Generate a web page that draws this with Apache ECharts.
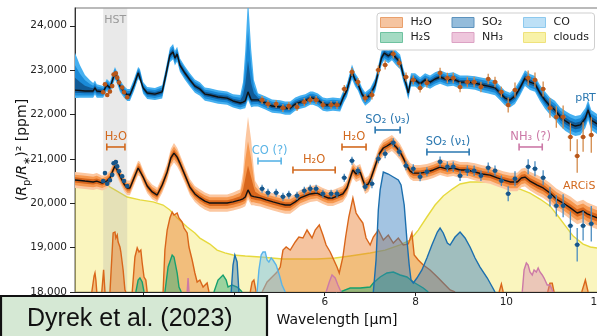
<!DOCTYPE html>
<html>
<head>
<meta charset="utf-8">
<script src="https://cdn.jsdelivr.net/npm/echarts@6/dist/echarts.min.js"></script>
<style>
  html, body { margin: 0; padding: 0; background: #fff; }
  #chart { width: 597px; height: 336px; }
</style>
</head>
<body>
<div id="chart"></div>
<script>
// ---------- axes ----------
const xTicks = [2, 4, 6, 8, 10, 12];
const yTicks = [18000, 19000, 20000, 21000, 22000, 23000, 24000];

// pRT retrieval is drawn shifted up for clarity (model and data alike)
const PRT_OFFSET = 2000;

// retrieved transit spectra: [wavelength µm, median ppm, sigma below, sigma above]
const prtModel = [
  [0.50, 22550, 60, 280], [0.61, 22540, 55, 190], [0.72, 22530, 50, 120], [0.83, 22530, 50, 80],
  [0.90, 22530, 50, 60], [0.94, 22600, 50, 55], [0.98, 22530, 50, 50], [1.12, 22510, 45, 45],
  [1.20, 22665, 45, 45], [1.27, 22600, 45, 45], [1.34, 22820, 45, 45], [1.38, 22935, 45, 45],
  [1.43, 22820, 45, 45], [1.49, 22640, 45, 45], [1.58, 22510, 45, 45], [1.65, 22440, 45, 45],
  [1.71, 22440, 45, 45], [1.80, 22665, 45, 45], [1.89, 22935, 45, 45], [1.93, 22890, 45, 45],
  [2.00, 22600, 45, 45], [2.09, 22485, 45, 45], [2.26, 22460, 45, 45], [2.42, 22510, 50, 50],
  [2.50, 22890, 50, 50], [2.59, 23340, 55, 55], [2.66, 23410, 55, 60], [2.70, 23270, 55, 55],
  [2.75, 23360, 55, 55], [2.81, 23115, 50, 50], [2.92, 22935, 50, 50], [3.03, 22780, 50, 50],
  [3.14, 22640, 50, 50], [3.25, 22575, 50, 50], [3.36, 22460, 50, 50], [3.47, 22440, 50, 50],
  [3.65, 22395, 50, 50], [3.85, 22370, 50, 50], [3.98, 22305, 50, 50], [4.14, 22260, 50, 60],
  [4.20, 22280, 50, 150], [4.25, 22305, 55, 380], [4.31, 22510, 60, 700], [4.38, 22330, 55, 380],
  [4.44, 22330, 50, 150], [4.53, 22330, 50, 50], [4.69, 22260, 50, 50], [4.84, 22190, 50, 50],
  [5.02, 22170, 50, 50], [5.13, 22145, 50, 50], [5.24, 22145, 50, 50], [5.35, 22235, 50, 50],
  [5.46, 22280, 50, 50], [5.57, 22305, 50, 50], [5.68, 22370, 50, 50], [5.74, 22370, 50, 50],
  [5.85, 22325, 50, 50], [5.96, 22235, 50, 50], [6.05, 22215, 50, 50], [6.18, 22235, 50, 50],
  [6.34, 22215, 50, 50], [6.42, 22415, 50, 50], [6.49, 22550, 50, 50], [6.60, 22960, 55, 55],
  [6.67, 22780, 50, 50], [6.73, 22690, 50, 50], [6.82, 22460, 50, 50], [6.89, 22350, 50, 50],
  [7.00, 22440, 50, 50], [7.11, 22665, 50, 50], [7.18, 22960, 50, 50], [7.25, 23275, 55, 55],
  [7.31, 23385, 55, 55], [7.40, 23320, 55, 55], [7.48, 23385, 55, 55], [7.57, 23275, 55, 55],
  [7.66, 23185, 55, 55], [7.73, 22890, 50, 50], [7.79, 22690, 50, 50], [7.84, 22485, 50, 50],
  [7.90, 22780, 50, 50], [7.99, 22780, 50, 50], [8.10, 22690, 50, 50], [8.21, 22780, 50, 50],
  [8.32, 22730, 50, 50], [8.43, 22800, 50, 50], [8.54, 22845, 50, 50], [8.70, 22780, 50, 50],
  [8.83, 22800, 50, 50], [8.98, 22730, 50, 50], [9.14, 22730, 50, 50], [9.31, 22710, 50, 50],
  [9.47, 22665, 55, 55], [9.60, 22640, 55, 55], [9.75, 22600, 55, 55], [9.86, 22485, 55, 55],
  [9.97, 22370, 55, 55], [10.08, 22325, 55, 55], [10.19, 22415, 60, 60], [10.30, 22600, 60, 60],
  [10.41, 22820, 60, 60], [10.52, 22730, 60, 60], [10.63, 22690, 60, 60], [10.74, 22485, 60, 60],
  [10.85, 22325, 65, 65], [10.96, 22190, 65, 65], [11.07, 22100, 70, 70], [11.19, 21945, 70, 70],
  [11.30, 21855, 75, 75], [11.41, 21785, 75, 75], [11.52, 21740, 75, 75], [11.63, 21765, 75, 75],
  [11.74, 21920, 75, 75], [11.80, 22100, 75, 75], [11.87, 21875, 75, 75], [12.00, 21785, 75, 75]
];

const arcisModel = [
  [0.50, 20525, 60, 60], [0.72, 20500, 60, 60], [0.90, 20480, 60, 60], [0.98, 20500, 60, 60],
  [1.10, 20455, 55, 55], [1.20, 20500, 55, 55], [1.27, 20570, 55, 55], [1.34, 20750, 55, 55],
  [1.38, 20840, 55, 55], [1.43, 20750, 55, 55], [1.49, 20615, 55, 55], [1.58, 20435, 55, 55],
  [1.65, 20345, 55, 55], [1.71, 20345, 55, 55], [1.80, 20570, 55, 55], [1.89, 20795, 55, 55],
  [1.93, 20770, 55, 55], [2.00, 20590, 55, 55], [2.09, 20390, 55, 55], [2.20, 20255, 55, 55],
  [2.31, 20185, 55, 55], [2.42, 20410, 60, 60], [2.53, 20705, 65, 65], [2.61, 21020, 70, 70],
  [2.68, 21130, 70, 75], [2.75, 21040, 70, 70], [2.81, 20905, 65, 65], [2.92, 20635, 60, 60],
  [3.03, 20365, 60, 60], [3.14, 20210, 60, 60], [3.25, 20120, 65, 65], [3.36, 20050, 65, 65],
  [3.47, 20005, 65, 65], [3.69, 20005, 65, 65], [3.85, 20005, 65, 65], [3.98, 20030, 65, 70],
  [4.14, 20075, 65, 80], [4.20, 20100, 65, 200], [4.25, 20140, 70, 420], [4.31, 20300, 70, 550],
  [4.38, 20165, 70, 420], [4.44, 20150, 65, 200], [4.47, 20140, 65, 120], [4.58, 20120, 65, 65],
  [4.71, 20075, 65, 65], [4.86, 20030, 65, 65], [5.02, 19985, 65, 65], [5.13, 19960, 65, 65],
  [5.24, 19960, 65, 65], [5.35, 20030, 60, 60], [5.46, 20120, 60, 60], [5.57, 20165, 60, 60],
  [5.68, 20210, 60, 60], [5.83, 20230, 60, 60], [5.96, 20165, 60, 60], [6.07, 20120, 60, 60],
  [6.18, 20120, 60, 60], [6.29, 20165, 60, 60], [6.40, 20210, 60, 60], [6.49, 20345, 60, 60],
  [6.56, 20570, 60, 60], [6.62, 20750, 60, 60], [6.69, 20660, 60, 60], [6.78, 20705, 60, 60],
  [6.84, 20525, 60, 60], [6.89, 20390, 60, 60], [6.96, 20435, 60, 60], [7.02, 20570, 60, 60],
  [7.11, 20840, 60, 60], [7.20, 21110, 60, 60], [7.29, 21245, 60, 60], [7.37, 21290, 60, 60],
  [7.48, 21360, 60, 60], [7.57, 21270, 60, 60], [7.66, 21155, 60, 60], [7.73, 21020, 60, 60],
  [7.81, 20840, 60, 60], [7.88, 20725, 60, 60], [7.95, 20680, 60, 60], [8.10, 20680, 60, 60],
  [8.25, 20705, 60, 60], [8.39, 20750, 60, 60], [8.54, 20815, 60, 60], [8.70, 20770, 60, 60],
  [8.83, 20795, 60, 60], [8.98, 20750, 60, 60], [9.14, 20750, 60, 60], [9.31, 20705, 65, 65],
  [9.47, 20660, 65, 65], [9.64, 20635, 65, 65], [9.80, 20570, 65, 65], [9.93, 20525, 65, 65],
  [10.08, 20480, 70, 70], [10.24, 20480, 70, 70], [10.33, 20570, 70, 70], [10.41, 20590, 70, 70],
  [10.52, 20500, 70, 70], [10.68, 20410, 75, 75], [10.81, 20345, 75, 75], [10.96, 20230, 75, 75],
  [11.10, 20095, 80, 80], [11.25, 20005, 80, 80], [11.41, 19895, 85, 85], [11.56, 19780, 85, 85],
  [11.69, 19825, 85, 85], [11.78, 19760, 85, 85], [11.89, 19715, 85, 85], [12.00, 19670, 85, 85]
];

// contributions of the individual opacity sources: [wavelength µm, ppm], null splits features
const cloudsCurve = [
  [0.50, 20500], [0.83, 20480], [1.12, 20455], [1.38, 20300], [1.65, 20140], [1.93, 20075],
  [2.22, 20030], [2.44, 19960], [2.59, 19850], [2.75, 19670], [2.97, 19465], [3.14, 19330],
  [3.25, 19215], [3.47, 19080], [3.63, 18945], [3.80, 18880], [3.98, 18835], [4.25, 18810],
  [4.58, 18790], [5.08, 18745], [5.46, 18745], [5.83, 18745], [6.23, 18765], [6.56, 18810],
  [7.00, 18880], [7.33, 18945], [7.66, 19060], [7.88, 19170], [8.06, 19395], [8.25, 19690],
  [8.43, 19960], [8.61, 20165], [8.81, 20320], [8.98, 20435], [9.20, 20480], [9.42, 20480],
  [9.64, 20480], [9.86, 20455], [10.08, 20390], [10.30, 20320], [10.52, 20230], [10.74, 20095],
  [10.96, 19940], [11.12, 19735], [11.30, 19490], [11.47, 19260], [11.69, 19080], [11.85, 19015],
  [12.00, 18990]
];

const h2oCurve = [
  [0.87, 18000], [0.92, 18360], [0.94, 18430], [0.96, 18270], [0.98, 18000], null,
  [1.09, 18000], [1.13, 18500], [1.16, 18000], null,
  [1.27, 18000], [1.32, 18946], [1.34, 19330], [1.38, 19352], [1.40, 19217], [1.43, 19284],
  [1.45, 19127], [1.49, 19014], [1.51, 18901], [1.56, 18496], [1.60, 18045], [1.62, 18000], null,
  [1.76, 18000], [1.82, 18789], [1.87, 18992], [1.91, 18901], [1.95, 18946], [1.98, 18654],
  [2.02, 18338], [2.06, 18270], [2.09, 18000], null,
  [2.44, 18000], [2.48, 18946], [2.53, 19397], [2.59, 19668], [2.64, 19803], [2.68, 19735],
  [2.75, 19780], [2.79, 19668], [2.86, 19577], [2.90, 19442], [2.97, 19330], [3.01, 19014],
  [3.08, 18721], [3.14, 18428], [3.19, 18225], [3.25, 18270], [3.32, 18113], [3.41, 18203],
  [3.45, 18000], null,
  [4.36, 18000], [4.40, 18225], [4.44, 18270], [4.49, 18000], null,
  [4.62, 18000], [4.73, 18225], [4.84, 18338], [4.95, 18451], [5.02, 18563], [5.08, 18946],
  [5.15, 19014], [5.24, 18946], [5.35, 19127], [5.43, 19239], [5.52, 19217], [5.61, 19397],
  [5.72, 19217], [5.79, 19397], [5.88, 19510], [5.96, 19284], [6.03, 19059], [6.12, 18901],
  [6.18, 18766], [6.27, 18563], [6.32, 18428], [6.40, 18789], [6.46, 19239], [6.53, 19690],
  [6.62, 20118], [6.69, 19780], [6.76, 19668], [6.84, 19555], [6.91, 19217], [7.00, 19059],
  [7.07, 19239], [7.18, 19397], [7.29, 19172], [7.40, 19284], [7.51, 19104], [7.62, 19217],
  [7.73, 19059], [7.84, 19082], [7.92, 19330], [7.97, 18834], [8.06, 18721], [8.17, 18608],
  [8.32, 18496], [8.48, 18338], [8.61, 18203], [8.76, 18045], [8.87, 18000], null,
  [9.84, 18000], [9.89, 18180], [9.93, 18000], null,
  [10.91, 18000], [10.96, 18200], [11.01, 18200], [11.05, 18000], null,
  [11.66, 18000], [11.74, 18270], [11.80, 18000]
];

const h2sCurve = [
  [1.84, 18000], [1.89, 18270], [1.93, 18315], [1.98, 18225], [2.02, 18000], null,
  [2.48, 18000], [2.55, 18563], [2.64, 18834], [2.68, 18789], [2.75, 18428], [2.79, 18113],
  [2.84, 18000], null,
  [3.56, 18000], [3.65, 18270], [3.76, 18383], [3.83, 18270], [3.87, 18113], [3.96, 18158],
  [4.07, 18113], [4.14, 18045], [4.18, 18000], null,
  [6.34, 18000], [6.56, 18090], [6.78, 18090], [7.00, 18113], [7.07, 18203], [7.22, 18338],
  [7.37, 18428], [7.51, 18451], [7.66, 18383], [7.81, 18338], [7.95, 18225], [8.06, 18158],
  [8.17, 18090], [8.28, 18000]
];

const so2Curve = [
  [3.94, 18000], [3.98, 18608], [4.02, 18834], [4.07, 18676], [4.11, 18000], null,
  [7.07, 18000], [7.13, 18721], [7.18, 19848], [7.22, 20299], [7.29, 20704], [7.40, 20659],
  [7.51, 20592], [7.62, 20524], [7.68, 20411], [7.75, 19961], [7.81, 19172], [7.86, 18608],
  [7.90, 18270], [7.95, 18203], [8.03, 18315], [8.14, 18496], [8.25, 18766], [8.36, 19059],
  [8.48, 19352], [8.54, 19442], [8.61, 19330], [8.70, 19104], [8.76, 19059], [8.87, 19239],
  [8.98, 19352], [9.09, 19217], [9.20, 19014], [9.31, 18766], [9.42, 18563], [9.58, 18315],
  [9.69, 18113], [9.75, 18000]
];

const coCurve = [
  [4.51, 18000], [4.55, 18496], [4.60, 18834], [4.64, 18901], [4.69, 18901], [4.73, 18721],
  [4.77, 18676], [4.82, 18766], [4.86, 18721], [4.93, 18608], [5.00, 18383], [5.06, 18158],
  [5.13, 18000]
];

const nh3Curve = [
  [2.97, 18000], [2.99, 18315], [3.01, 18000], null,
  [6.03, 18000], [6.10, 18225], [6.16, 18383], [6.23, 18315], [6.29, 18158], [6.36, 18000], null,
  [10.35, 18000], [10.39, 18496], [10.44, 18654], [10.48, 18608], [10.52, 18451], [10.57, 18383],
  [10.61, 18496], [10.66, 18451], [10.70, 18541], [10.74, 18451], [10.79, 18383], [10.83, 18315],
  [10.90, 18158], [10.96, 18158], [11.03, 18000]
];

// observed spectrum (HST WFC3 + JWST MIRI LRS)
const hstWave  = [1.12, 1.16, 1.21, 1.27, 1.32, 1.35, 1.40, 1.43, 1.47, 1.54, 1.58, 1.65];
const hstDepth = [20500, 20680, 20440, 20520, 20640, 20900, 20930, 20830, 20720, 20610, 20500, 20390];
const hstErr   = [40, 40, 40, 40, 40, 40, 40, 40, 40, 40, 40, 40];

const miriWave = [4.62, 4.75, 4.93, 5.08, 5.21, 5.39, 5.55, 5.68, 5.81, 5.96, 6.14, 6.27, 6.43,
  6.60, 6.73, 6.89, 7.04, 7.18, 7.33, 7.51, 7.64, 7.79, 7.95, 8.10, 8.25, 8.54, 8.70, 8.83,
  8.98, 9.14, 9.29, 9.44, 9.60, 9.75, 9.89, 10.04, 10.19, 10.48, 10.63, 10.81, 10.96, 11.10,
  11.25, 11.41, 11.56, 11.69, 11.87];
const miriDepth = [20327, 20237, 20237, 20146, 20192, 20169, 20282, 20327, 20327, 20214, 20214,
  20214, 20575, 20958, 20732, 20372, 20439, 21003, 21115, 21363, 21161, 20845, 20777, 20597,
  20710, 20935, 20822, 20822, 20620, 20732, 20732, 20620, 20800, 20732, 20507, 20214, 20552,
  20822, 20777, 20575, 20146, 19944, 19944, 19493, 19065, 19493, 19538];
const miriErr = [90, 90, 90, 90, 90, 90, 90, 90, 90, 90, 90, 90, 90, 90, 90, 90,
  100, 100, 100, 100, 100, 100, 100, 100, 100,
  120, 120, 120, 120, 120, 120, 120, 120, 120, 120,
  170, 170, 170, 170, 170,
  220, 240, 260, 320, 380, 330, 400];

const HST_RANGE = [1.12, 1.65];

// marked absorption features: [from µm, to µm, ppm, label, colour]
const ORANGE = '#d2691e', SO2_BLUE = '#2a77b0', CO_BLUE = '#5ab4e6', PINK = '#cc79a7';
const featureLabels = [
  [1.20, 1.60, 21268, 'H₂O', ORANGE],
  [4.53, 5.04, 20952, 'CO (?)', CO_BLUE],
  [5.30, 6.23, 20749, 'H₂O', ORANGE],
  [6.38, 6.91, 21268, 'H₂O', ORANGE],
  [7.11, 7.66, 21651, 'SO₂ (ν₃)', SO2_BLUE],
  [8.25, 9.18, 21155, 'SO₂ (ν₁)', SO2_BLUE],
  [10.28, 10.79, 21268, 'NH₃ (?)', PINK]
];

// free text labels: [text, µm, ppm, colour, alignment]
const textLabels = [
  ['HST', 1.385, 24130, '#9a9a9a', 'center'],
  ['pRT', 11.97, 22372, SO2_BLUE, 'right'],
  ['ARCiS', 11.96, 20389, ORANGE, 'right']
];

const FONT = 'DejaVu Sans';
const Y_MIN = 18000, Y_MAX = 24400;

// ---------- series builders ----------
function bandLayer(rows, k, color, z) {
  return {
    type: 'custom', z, silent: true, clip: true,
    data: [[rows[0][0], rows[0][1]]],
    renderItem(params, api) {
      const up = rows.map(r => api.coord([r[0], r[1] + k * r[3]]));
      const dn = rows.map(r => api.coord([r[0], r[1] - k * r[2]])).reverse();
      return { type: 'polygon', shape: { points: up.concat(dn) }, style: { fill: color, stroke: 'none' } };
    }
  };
}

function medianLine(rows, z) {
  return {
    type: 'line', z, silent: true, showSymbol: false,
    data: rows.map(r => [r[0], r[1]]),
    lineStyle: { color: '#111', width: 1.4 }
  };
}

// each feature is filled down to the bottom of the axis and outlined
function contribution(name, pts, line, fill, z) {
  const segs = [];
  let cur = [];
  pts.forEach(p => {
    if (p) { cur.push(p); } else { if (cur.length) segs.push(cur); cur = []; }
  });
  if (cur.length) segs.push(cur);
  return {
    type: 'custom', name, z, silent: true, clip: true,
    data: segs.map(s => [s[0][0], s[0][1]]),
    renderItem(params, api) {
      const seg = segs[params.dataIndex];
      const pts = seg.map(p => api.coord(p));
      const first = api.coord([seg[0][0], Y_MIN]);
      const last = api.coord([seg[seg.length - 1][0], Y_MIN]);
      const poly = [first].concat(pts, [last]);
      return {
        type: 'group', children: [
          { type: 'polygon', shape: { points: poly }, style: { fill: fill, stroke: 'none' } },
          { type: 'polyline', shape: { points: pts }, style: { stroke: line, lineWidth: 1.4, fill: 'none' } }
        ]
      };
    }
  };
}

function obsLayer(wave, depth, err, halfBin, shift, dot, bar, z) {
  return {
    type: 'custom', z, silent: true, clip: true,
    data: wave.map((w, i) => [w, depth[i] + shift, err[i]]),
    encode: { x: 0, y: 1 },
    renderItem(params, api) {
      const x = api.value(0), y = api.value(1), e = api.value(2);
      const c = api.coord([x, y]);
      const t = api.coord([x, y + e]), b = api.coord([x, y - e]);
      const l = api.coord([x - halfBin, y]), r = api.coord([x + halfBin, y]);
      return {
        type: 'group', children: [
          { type: 'line', shape: { x1: t[0], y1: t[1], x2: b[0], y2: b[1] }, style: { stroke: bar, lineWidth: 1.3, fill: 'none' } },
          { type: 'line', shape: { x1: l[0], y1: l[1], x2: r[0], y2: r[1] }, style: { stroke: bar, lineWidth: 1.3, fill: 'none' } },
          { type: 'circle', shape: { cx: c[0], cy: c[1], r: 2.3 }, style: { fill: dot, stroke: 'none' } }
        ]
      };
    }
  };
}

const hstShade = {
  type: 'custom', z: 2, silent: true, clip: true,
  data: [[HST_RANGE[0], 20000]],
  renderItem(params, api) {
    const a = api.coord([HST_RANGE[0], Y_MAX]);
    const b = api.coord([HST_RANGE[1], Y_MIN]);
    return { type: 'rect', shape: { x: a[0], y: a[1], width: b[0] - a[0], height: b[1] - a[1] },
      style: { fill: 'rgba(165,165,165,0.24)', stroke: 'none' } };
  }
};

const featureLayer = {
  type: 'custom', z: 30, silent: true, clip: false,
  data: featureLabels.map(f => [f[0], f[2]]),
  renderItem(params, api) {
    const f = featureLabels[params.dataIndex];
    const a = api.coord([f[0], f[2]]), b = api.coord([f[1], f[2]]);
    const col = f[4];
    const seg = (x1, y1, x2, y2) => ({ type: 'line', shape: { x1, y1, x2, y2 },
      style: { stroke: col, lineWidth: 1.6, fill: 'none' } });
    return {
      type: 'group', children: [
        seg(a[0], a[1], b[0], b[1]),
        seg(a[0], a[1] - 3.5, a[0], a[1] + 3.5),
        seg(b[0], b[1] - 3.5, b[0], b[1] + 3.5),
        { type: 'text', x: (a[0] + b[0]) / 2, y: a[1] - 4,
          style: { text: f[3], fill: col, font: '11.5px "' + FONT + '"', align: 'center', verticalAlign: 'bottom' } }
      ]
    };
  }
};

const textLayer = {
  type: 'custom', z: 30, silent: true, clip: false,
  data: textLabels.map(t => [t[1], t[2]]),
  renderItem(params, api) {
    const t = textLabels[params.dataIndex];
    const p = api.coord([t[1], t[2]]);
    return { type: 'text', x: p[0], y: p[1],
      style: { text: t[0], fill: t[3], font: '11px "' + FONT + '"', align: t[4], verticalAlign: 'middle' } };
  }
};

// ---------- legend ----------
const legendItems = [
  { name: 'H₂O', itemStyle: { color: '#f5c4a0', borderColor: '#e9a06c', borderWidth: 1 } },
  { name: 'H₂S', itemStyle: { color: '#a4dbc3', borderColor: '#6fc2a0', borderWidth: 1 } },
  { name: 'SO₂', itemStyle: { color: '#94bcdb', borderColor: '#5c92bd', borderWidth: 1 } },
  { name: 'NH₃', itemStyle: { color: '#eec6dc', borderColor: '#dca2c4', borderWidth: 1 } },
  { name: 'CO', itemStyle: { color: '#bde0f6', borderColor: '#8dc9ee', borderWidth: 1 } },
  { name: 'clouds', itemStyle: { color: '#f8f2a8', borderColor: '#efe27c', borderWidth: 1 } }
];

const chart = echarts.init(document.getElementById('chart'), null, { renderer: 'canvas' });

chart.setOption({
  animation: false,
  backgroundColor: '#fff',
  grid: { left: 75, right: -2, top: 8, bottom: 44, show: true, borderColor: '#777', borderWidth: 1.2,
    containLabel: false, outerBoundsMode: 'none' },
  xAxis: {
    type: 'value', min: 0.5, max: 12.04,
    splitLine: { show: false },
    axisLine: { show: true, onZero: false, lineStyle: { color: '#222', width: 1 } },
    axisTick: { show: true, length: 4, customValues: xTicks, lineStyle: { color: '#222' } },
    axisLabel: { customValues: xTicks, fontSize: 10.5, color: '#222', margin: 5, fontFamily: FONT },
    name: 'Wavelength [μm]', nameLocation: 'middle', nameGap: 21,
    nameTextStyle: { fontSize: 14, color: '#111', fontFamily: FONT }
  },
  yAxis: {
    type: 'value', min: Y_MIN, max: Y_MAX,
    splitLine: { show: false },
    axisLine: { show: true, onZero: false, lineStyle: { color: '#333', width: 1 } },
    axisTick: { show: true, length: 5, customValues: yTicks, lineStyle: { color: '#222' } },
    axisLabel: { customValues: yTicks, fontSize: 10.5, color: '#222', margin: 8, fontFamily: FONT,
      formatter: v => v.toLocaleString('en-US') },
    name: '{t|(}{it|R}{sb|p}{t|/}{it|R}{sb|∗}{t|)² [ppm]}',
    nameLocation: 'middle', nameGap: 43, nameRotate: 90, nameMoveOverlap: false,
    nameTextStyle: {
      color: '#111', fontFamily: FONT,
      rich: {
        t: { fontSize: 14, lineHeight: 20, verticalAlign: 'middle', fontFamily: FONT, color: '#111' },
        it: { fontSize: 14, lineHeight: 20, verticalAlign: 'middle', fontStyle: 'italic', fontFamily: FONT, color: '#111' },
        sb: { fontSize: 10, lineHeight: 11, verticalAlign: 'bottom', fontFamily: FONT, color: '#111' }
      }
    }
  },
  legend: {
    orient: 'vertical', left: 377, top: 13, height: 30,
    itemGap: 2, itemWidth: 22, itemHeight: 10, icon: 'rect',
    padding: [3, 2, 6, 3],
    backgroundColor: '#fff', borderColor: '#cfcfcf', borderWidth: 1, borderRadius: 3,
    selectedMode: false, z: 50,
    textStyle: { fontSize: 11, color: '#222', fontFamily: FONT, width: 39, lineHeight: 13, padding: [0, 0, 0, 3] },
    data: legendItems
  },
  series: [
    contribution('clouds', cloudsCurve, '#e6d93e', 'rgba(245,236,125,0.5)', 1),
    hstShade,
    contribution('H₂O', h2oCurve, '#d9661a', 'rgba(232,125,45,0.45)', 3),
    contribution('H₂S', h2sCurve, '#16a06e', 'rgba(40,170,120,0.45)', 4),
    contribution('CO', coCurve, '#5ab4e8', 'rgba(120,195,240,0.5)', 5),
    contribution('NH₃', nh3Curve, '#cc79a7', 'rgba(212,130,176,0.4)', 6),
    contribution('SO₂', so2Curve, '#1c6fae', 'rgba(50,125,190,0.45)', 7),

    bandLayer(arcisModel, 3, '#fcc7a0', 8),
    bandLayer(arcisModel, 2, '#f6984f', 9),
    bandLayer(arcisModel, 1, '#d8661c', 10),
    medianLine(arcisModel, 11),

    bandLayer(prtModel, 3, '#46b0f0', 12),
    bandLayer(prtModel, 2, '#1a8ad8', 13),
    bandLayer(prtModel, 1, '#115b97', 14),
    medianLine(prtModel, 15),

    obsLayer(hstWave, hstDepth, hstErr, 0.02, 0, '#17568a', '#4a8cc0', 20),
    obsLayer(miriWave, miriDepth, miriErr, 0.06, 0, '#17568a', '#4a8cc0', 20),
    obsLayer(hstWave, hstDepth, hstErr, 0.02, PRT_OFFSET, '#b8571a', '#d38a4a', 21),
    obsLayer(miriWave, miriDepth, miriErr, 0.06, PRT_OFFSET, '#b8571a', '#d38a4a', 21),

    featureLayer,
    textLayer
  ],
  graphic: [
    { type: 'rect', z: 100, shape: { x: 1, y: 296, width: 266, height: 60 },
      style: { fill: '#d5e8d4', stroke: '#111', lineWidth: 2.2 } },
    { type: 'text', z: 101, x: 27, y: 319,
      style: { text: 'Dyrek et al. (2023)', fill: '#111', font: '25px "Liberation Sans"', align: 'left', verticalAlign: 'middle' } }
  ]
});
</script>
</body>
</html>
